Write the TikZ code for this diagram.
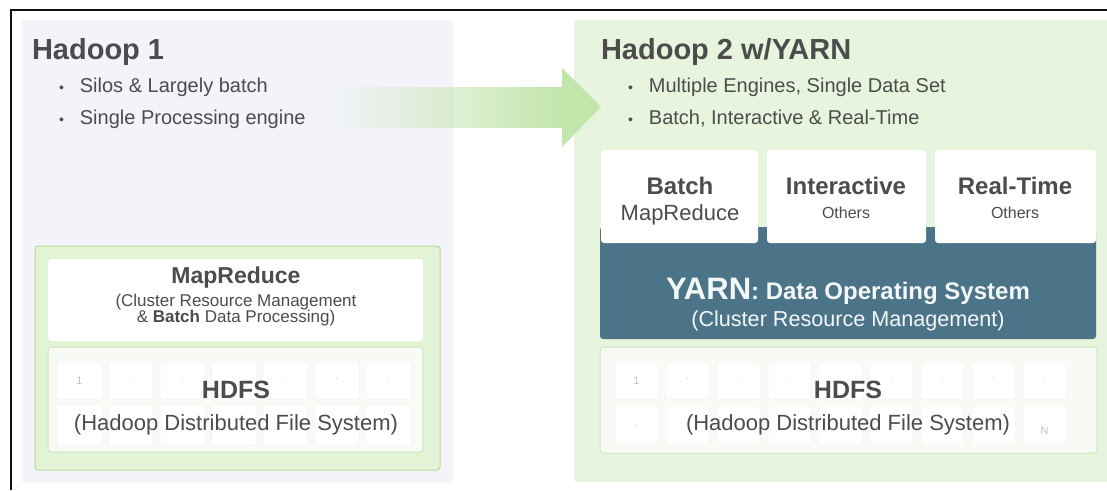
\documentclass[tikz,border=0pt]{standalone}
\usepackage{fontspec}
\setmainfont{Liberation Sans}
\usetikzlibrary{fadings}
\newcommand{\pxsize}[1]{\fontsize{#1}{#1}\selectfont}
\definecolor{frameblack}{HTML}{111111}
\definecolor{lavender}{HTML}{F3F3F9}
\definecolor{palegreen}{HTML}{E8F5DE}
\definecolor{boxgreen}{HTML}{E3F3D6}
\definecolor{edgegreen}{HTML}{B5DC9A}
\definecolor{hdfsfill}{HTML}{F8FBF5}
\definecolor{hdfsedge}{HTML}{CDE6BA}
\definecolor{arrowgreen}{HTML}{C2E5AB}
\definecolor{yarnblue}{HTML}{4B7488}
\definecolor{textgrey}{HTML}{4C4C4C}
\definecolor{cellgrey}{HTML}{F1F1F1}
\definecolor{markgrey}{HTML}{C4C4C4}
\tikzfading[name=fadein, left color=transparent!100, right color=transparent!0]

\begin{document}
\begin{tikzpicture}[x=1pt,y=-1pt,
  every node/.style={inner sep=0pt, outer sep=0pt, text=textgrey},
  panelbox/.style={anchor=north west, rounded corners=3pt},
  whitebox/.style={panelbox, fill=white},
  hdfsbox/.style={panelbox, fill=hdfsfill, draw=hdfsedge, line width=1pt},
  cell/.style={anchor=north west, fill=white, draw=cellgrey, line width=0.5pt, rounded corners=1pt},
  cellmark/.style={text=markgrey, font=\pxsize{11}},
  paneltitle/.style={anchor=base west, font=\pxsize{29}\bfseries},
  bulletline/.style={anchor=base west, font=\pxsize{20}},
  boxhead/.style={anchor=base, font=\pxsize{24}\bfseries},
  boxsub/.style={anchor=base, font=\pxsize{22}},
]
\useasboundingbox (0,0) rectangle (1107,490);
\fill[white] (0,0) rectangle (1107,490);

% panels
\node[panelbox, fill=lavender, minimum width=431pt, minimum height=463pt] (old) at (22,20) {};
\node[panelbox, fill=palegreen, minimum width=540pt, minimum height=462pt] (new) at (574,20) {};

% arrow
\fill[arrowgreen, path fading=fadein] (330,87) rectangle (563,128);
\fill[arrowgreen] (562,68) -- (601,107) -- (562,147) -- cycle;

% Hadoop 1
\node[paneltitle] (oldtitle) at (32,59) {Hadoop 1};
\node[bulletline] (oldb1) at (59,92) {{\pxsize{14}\textbullet}\hspace{16pt}Silos \& Largely batch};
\node[bulletline] (oldb2) at (59,124) {{\pxsize{14}\textbullet}\hspace{16pt}Single Processing engine};

\node[panelbox, fill=boxgreen, draw=edgegreen, line width=1pt, minimum width=405pt, minimum height=224pt] (stack) at (35,246) {};
\node[whitebox, minimum width=375pt, minimum height=82pt] (mr) at (48,259) {};
\node[boxhead, font=\pxsize{23}\bfseries] (mrtitle) at (236,283) {MapReduce};
\node[anchor=base, font=\pxsize{17}] (mrsub1) at (236,306) {(Cluster Resource Management};
\node[anchor=base, font=\pxsize{17}] (mrsub2) at (236,322) {\& \textbf{Batch} Data Processing)};

\node[hdfsbox, minimum width=375pt, minimum height=105pt] (oldhdfs) at (48,347) {};
\foreach \i in {0,...,6} {
  \node[cell, minimum width=45pt, minimum height=36pt] (oa\i) at ({57+51.5*\i},363) {};
  \node[cell, minimum width=45pt, minimum height=40pt] (ob\i) at ({57+51.5*\i},405) {};
}
\node[cellmark] (oa0n) at (oa0) {1};
\foreach \i in {1,2,4,5,6}
  \node[cellmark, yshift=2pt] (oa\i n) at (oa\i) {$\cdot$};
\node[boxhead, font=\pxsize{25}\bfseries] (oldhdfstitle) at (236,398) {HDFS};
\node[boxsub] (oldhdfssub) at (236,430) {(Hadoop Distributed File System)};

% Hadoop 2
\node[paneltitle] (newtitle) at (601,59) {Hadoop 2 w/YARN};
\node[bulletline] (newb1) at (628,92) {{\pxsize{14}\textbullet}\hspace{16pt}Multiple Engines, Single Data Set};
\node[bulletline] (newb2) at (628,124) {{\pxsize{14}\textbullet}\hspace{16pt}Batch, Interactive \& Real-Time};

\node[panelbox, fill=yarnblue, minimum width=496pt, minimum height=112pt] (yarn) at (600,227) {};
\node[whitebox, minimum width=157pt, minimum height=93pt] (batch) at (601,150) {};
\node[whitebox, minimum width=159pt, minimum height=93pt] (inter) at (767,150) {};
\node[whitebox, minimum width=161pt, minimum height=93pt] (real) at (935,150) {};
\node[boxhead] (batchtitle) at (680,194) {Batch};
\node[boxsub] (batchsub) at (680,220) {MapReduce};
\node[boxhead] (intertitle) at (846,194) {Interactive};
\node[anchor=base, font=\pxsize{16}] (intersub) at (846,218) {Others};
\node[boxhead] (realtitle) at (1015,194) {Real-Time};
\node[anchor=base, font=\pxsize{16}] (realsub) at (1015,218) {Others};

\node[anchor=base, text=white!94!yarnblue, font=\bfseries] (yarntitle) at (848,299)
  {\pxsize{31}YARN\pxsize{24}: Data Operating System};
\node[anchor=base, text=white!94!yarnblue, font=\pxsize{21.6}] (yarnsub) at (848,326)
  {(Cluster Resource Management)};

\node[hdfsbox, minimum width=497pt, minimum height=106pt] (newhdfs) at (600,347) {};
\foreach \i in {0,...,8} {
  \node[cell, minimum width=43pt, minimum height=36pt] (na\i) at ({615+51*\i},363) {};
  \node[cell, minimum width=43pt, minimum height=38pt] (nb\i) at ({615+51*\i},406) {};
}
\node[cellmark] (na0n) at (na0) {1};
\foreach \i in {1,2,3,5,6,7,8}
  \node[cellmark, yshift=2pt] (na\i n) at (na\i) {$\cdot$};
\node[cellmark] (nb0n) at (nb0) {$\cdot$};
\node[cellmark, yshift=-6pt] (nb8n) at (nb8) {N};
\node[boxhead, font=\pxsize{25}\bfseries] (newhdfstitle) at (848,398) {HDFS};
\node[boxsub] (newhdfssub) at (848,430) {(Hadoop Distributed File System)};

% screenshot frame
\draw[frameblack, line width=2.2pt] (11,490) -- (11,10) -- (1107,10);
\end{tikzpicture}
\end{document}
